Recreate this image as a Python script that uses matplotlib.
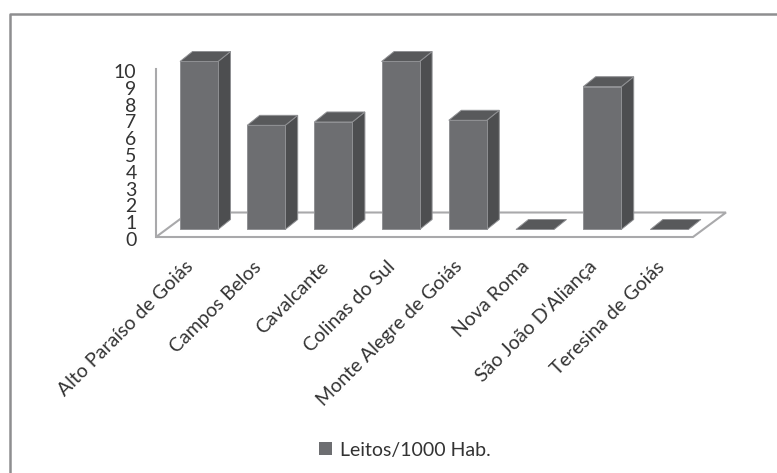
import matplotlib
matplotlib.use("Agg")
import matplotlib.pyplot as plt
from matplotlib.patches import Polygon, Patch
from matplotlib.lines import Line2D
from matplotlib.transforms import ScaledTranslation

categories = ["Alto Paraíso de Goiás", "Campos Belos", "Cavalcante", "Colinas do Sul",
              "Monte Alegre de Goiás", "Nova Roma", "São João D'Aliança", "Teresina de Goiás"]
values = [10, 6.2, 6.4, 10, 6.5, 0, 8.5, 0]
series_name = "Leitos/1000 Hab."
yticks = list(range(0, 11))

W, H = 777, 473
FRONT, TOP, SIDE = "#6d6e71", "#58595b", "#4d4e50"
EDGE, GRID = "#8f9093", "#a9a9ab"
plt.rcParams["font.family"] = ["Lato", "DejaVu Sans"]

fig = plt.figure(figsize=(W / 100, H / 100), dpi=100, facecolor="white")
L, R, T, B = 156, 693, 69, 237
ax = fig.add_axes([L / W, 1 - B / H, (R - L) / W, (B - T) / H])
PX = 67.2            # pixels per category
PY = 16.8            # pixels per value unit
x0 = -(199 - L) / PX
ax.set_xlim(x0, x0 + (R - L) / PX)
ax.set_ylim(0, 10)
ax.patch.set_visible(False)

# frame of the chart (open at right and bottom)
fig.add_artist(Line2D([10 / W, 10 / W, 1], [0, 1 - 14 / H, 1 - 14 / H], color="#8e8e90", lw=1.8,
                      transform=fig.transFigure))

# floor
fdx, fdy = 33 / PX, 24.5 / PY
xa, xb = ax.get_xlim()
ax.add_patch(Polygon([(xa, 0), (xb, 0), (xb + fdx, fdy), (xa + fdx, fdy)], closed=True,
                     facecolor="white", edgecolor=GRID, lw=1.5, clip_on=False, zorder=1))
ax.plot([xa, xa], [0, 10], color=GRID, lw=1.5, clip_on=False, zorder=1)

# bars
w = 38 / PX
by = 7.5 / PY         # offset of bar base in the depth
ddx, ddy = 12.5 / PX, 10 / PY
for i, v in enumerate(values):
    l, r = i - w / 2, i + w / 2
    b, t = by, by + v
    z = 3 + i
    kw = dict(closed=True, clip_on=False, zorder=z, lw=0.7)
    if v > 0:
        ax.add_patch(Polygon([(r, b), (r + ddx, b + ddy), (r + ddx, t + ddy), (r, t)],
                             facecolor=SIDE, edgecolor=EDGE, **kw))
    ax.add_patch(Polygon([(l, t), (r, t), (r + ddx, t + ddy), (l + ddx, t + ddy)],
                         facecolor=TOP, edgecolor=EDGE, **kw))
    if v > 0:
        ax.add_patch(Polygon([(l, b), (r, b), (r, t), (l, t)],
                             facecolor=FRONT, edgecolor=EDGE, **kw))

# axes
for s in ax.spines.values():
    s.set_visible(False)
ax.set_yticks(yticks)
ax.set_yticklabels([str(v) for v in yticks], fontsize=14, color="#333333")
ax.tick_params(axis="y", length=0, pad=14)
shift = ScaledTranslation(0, -1.5 / 72, fig.dpi_scale_trans)
for lab in ax.get_yticklabels():
    lab.set_transform(lab.get_transform() + shift)
ax.set_xticks(range(len(categories)))
ax.set_xticklabels(categories, rotation=45, ha="right", va="top", rotation_mode="anchor",
                   fontsize=14, color="#333333")
ax.tick_params(axis="x", length=0, pad=18)
xshift = ScaledTranslation(-14 / 100, 4 / 100, fig.dpi_scale_trans)
for lab in ax.get_xticklabels():
    lab.set_transform(lab.get_transform() + xshift)

# legend
fig.legend(handles=[Patch(facecolor=FRONT, edgecolor="none", label=series_name)],
           loc="center", bbox_to_anchor=(405 / W, 1 - 450 / H), frameon=False, fontsize=14,
           labelcolor="#333333", handlelength=0.65, handleheight=0.65, handletextpad=0.4,
           borderpad=0)

fig.savefig("out.png", dpi=100, facecolor="white")
